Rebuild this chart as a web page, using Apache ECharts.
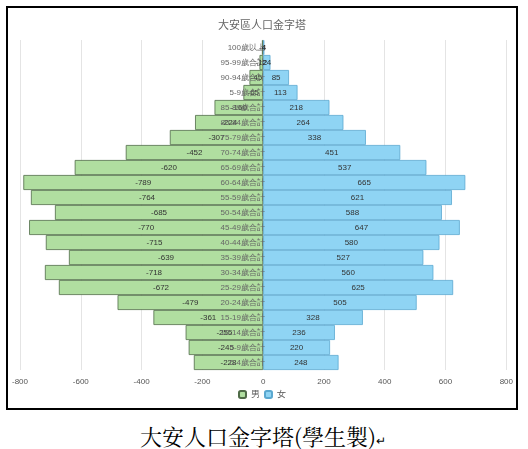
<!DOCTYPE html>
<html><head><meta charset="utf-8">
<script src="https://cdn.jsdelivr.net/npm/echarts@6/dist/echarts.min.js"></script>
<style>body{margin:0;background:#fff}#frame{position:absolute;left:6px;top:6px;width:512px;height:404px;border:2px solid #000;box-sizing:border-box}#c{width:508px;height:400px}#cap{position:absolute;left:140px;top:420px;font:22px "Noto Serif CJK TC","Noto Sans CJK TC",serif;color:#000}</style>
</head><body>
<div id="frame"><div id="c"></div></div>
<div id="cap">大安人口金字塔(學生製)<span style="font-size:12px">↵</span></div>
<script>
const categories=["0-4歲合計","5-9歲合計","10-14歲合計","15-19歲合計","20-24歲合計","25-29歲合計","30-34歲合計","35-39歲合計","40-44歲合計","45-49歲合計","50-54歲合計","55-59歲合計","60-64歲合計","65-69歲合計","70-74歲合計","75-79歲合計","80-84歲合計","85-89歲合計","5-9歲合計","90-94歲合計","95-99歲合計","100歲以上"];
const male=[-228,-245,-255,-361,-479,-672,-718,-639,-715,-770,-685,-764,-789,-620,-452,-307,-224,-160,-65,-45,-12,-4];
const female=[248,220,236,328,505,625,560,527,580,647,588,621,665,537,451,338,264,218,113,85,24,4];
const ticks=[-800,-600,-400,-200,0,200,400,600,800];
const ch=echarts.init(document.getElementById('c'));
ch.setOption({
 title:{text:'大安區人口金字塔',left:'center',top:6,textStyle:{fontSize:11,color:'#666',fontWeight:'normal',fontFamily:'Noto Sans CJK TC'}},
 legend:{bottom:4,itemWidth:7,itemHeight:7,itemGap:4,textStyle:{fontSize:9,color:'#555'},data:['男','女']},
 grid:{left:12,right:0,top:32,bottom:38},
 xAxis:{type:'value',min:-800,max:800,interval:200,splitLine:{lineStyle:{color:'#e4e4e4'}},axisLabel:{fontSize:8,color:'#555'}},
 yAxis:{type:'category',data:categories,offset:-248,z:10,axisTick:{show:false},axisLine:{show:false},axisLabel:{fontSize:8,color:'#666',margin:3}},
 series:[
  {name:'男',type:'bar',stack:'a',barCategoryGap:0,data:male,itemStyle:{color:'#b0dea0',borderColor:'#4f6b47',borderWidth:0.8},label:{show:true,position:'inside',fontSize:8,color:'#333'}},
  {name:'女',type:'bar',stack:'a',barCategoryGap:0,data:female,itemStyle:{color:'#8fd4f4',borderColor:'#5aa8d0',borderWidth:0.8},label:{show:true,position:'inside',fontSize:8,color:'#333'}}
 ]
});
</script></body></html>
